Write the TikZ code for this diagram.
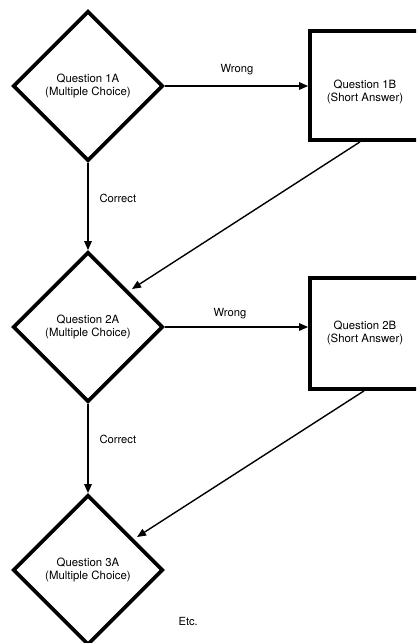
\documentclass[tikz,border=0pt]{standalone}
\usepackage{fontspec}
\setmainfont{TeX Gyre Heros}
\usetikzlibrary{shapes.geometric,arrows.meta}
\begin{document}
\begin{tikzpicture}[x=1pt,y=-1pt,
  q/.style={diamond,draw,line width=3.8pt,minimum width=150pt,minimum height=150pt,inner sep=0pt},
  sa/.style={rectangle,draw,line width=3.8pt,minimum width=110pt},
  txt/.style={align=center,font=\fontsize{11.4}{13.5}\selectfont},
  arr/.style={line width=1.4pt,-{Triangle[length=9pt,width=7.5pt]}},
  lbl/.style={font=\fontsize{11.2}{13}\selectfont}]
\useasboundingbox (0,0) rectangle (416,643);
\clip (0,0) rectangle (416,643);
\fill[white] (0,0) rectangle (416,643);

\node[q,txt] (d1) at (88,86) {Question 1A\\(Multiple Choice)};
\node[q,txt] (d2) at (88,327) {Question 2A\\(Multiple Choice)};
\node[q,txt] (d3) at (88,570) {Question 3A\\(Multiple Choice)};

\node[sa,minimum height=109pt] (b1) at (365,85.5) {};
\node[txt] (t1) at (365,92) {Question 1B\\(Short Answer)};
\node[sa,minimum height=111pt] (b2) at (365,333.5) {};
\node[txt] (t2) at (365,333) {Question 2B\\(Short Answer)};

\draw[arr] (d1.east) -- (d1.east -| b1.west);
\node[lbl] (w1) at (237,70) {Wrong};
\draw[arr] (d2.east) -- (d2.east -| b2.west);
\node[lbl] (w2) at (230,314) {Wrong};

\draw[arr] (d1.south) -- (d2.north);
\node[lbl,anchor=west] (c1) at (96,198) {Correct};
\draw[arr] (d2.south) -- (d3.north);
\node[lbl,anchor=west] (c2) at (96,439) {Correct};

\coordinate (e1) at (132,289);
\draw[arr] ([xshift=-5pt]b1.south) -- (e1);
\coordinate (e2) at (137,537);
\draw[arr] ([xshift=-1pt]b2.south) -- (e2);

\node[lbl,anchor=west] (etc) at (175,621) {Etc.};
\end{tikzpicture}
\end{document}
